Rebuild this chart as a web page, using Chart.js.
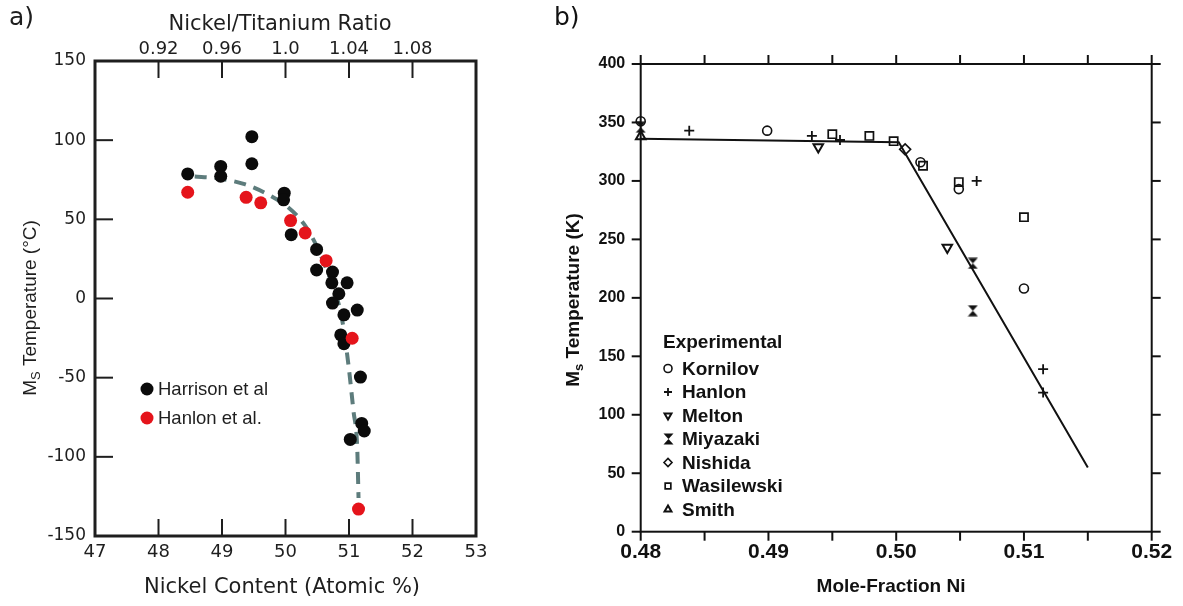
<!DOCTYPE html>
<html><head><meta charset="utf-8">
<script src="https://cdn.jsdelivr.net/npm/chart.js@4.4.1/dist/chart.umd.min.js"></script>
<style>
html,body{margin:0;padding:0;background:#fff;}
#wrap{position:relative;width:1183px;height:606px;overflow:hidden;background:#fff;}
canvas{position:absolute;top:0;}
#ca{left:0;}
#cb{left:540px;}
</style></head><body>
<div id="wrap"><canvas id="ca" width="520" height="606"></canvas><canvas id="cb" width="643" height="606"></canvas></div>
<script>
// ---------- Panel a data ----------
const niTicks = [47, 48, 49, 50, 51, 52, 53];
const ratioTickPos = [48, 49, 50, 51, 52];
const ratioLabels = ['0.92', '0.96', '1.0', '1.04', '1.08'];
const msTicksA = [-150, -100, -50, 0, 50, 100, 150];

const harrisonNi = [48.46, 48.98, 48.98, 49.47, 49.47, 49.98, 49.97, 50.09, 50.49, 50.49, 50.74, 50.73, 50.97, 50.84, 50.74, 50.92, 51.13, 50.87, 50.92, 51.18, 51.20, 51.24, 51.02];
const harrisonMs = [78.7, 83.4, 77.2, 102.2, 85.1, 66.5, 62.3, 40.3, 31.0, 18.0, 16.7, 9.9, 9.9, 3.0, -2.9, -10.3, -7.3, -23.0, -28.5, -49.6, -78.9, -83.7, -89.0];

const hanlonNi = [48.46, 49.38, 49.61, 50.08, 50.31, 50.64, 51.05, 51.15];
const hanlonMs = [67.1, 63.9, 60.4, 49.2, 41.4, 23.9, -25.1, -133.0];

const fitNi = [48.57, 48.88, 49.34, 49.71, 50.04, 50.29, 50.47, 50.65, 50.79, 50.89, 50.99, 51.07, 51.13, 51.15];
const fitMs = [77.0, 76.2, 72.4, 66.0, 57.6, 47.1, 34.8, 18.0, 3.0, -13.0, -41.5, -71.0, -95.0, -126.0];

// ---------- Panel b data ----------
const moleTicks = [0.48, 0.485, 0.49, 0.495, 0.50, 0.505, 0.51, 0.515, 0.52];
const moleLabels = ['0.48', '', '0.49', '', '0.50', '', '0.51', '', '0.52'];
const kelvinTicks = [0, 50, 100, 150, 200, 250, 300, 350, 400];

const kornilovX = [0.48, 0.4899, 0.5019, 0.5049, 0.5100];
const kornilovY = [351, 343, 316, 293, 208];
const hanlonBX = [0.4838, 0.4934, 0.4956, 0.5063, 0.5115, 0.5115];
const hanlonBY = [343, 338.5, 335, 300, 139, 119];
const meltonX = [0.4939, 0.5040];
const meltonY = [329, 243];
const miyazakiX = [0.48, 0.5060, 0.5060];
const miyazakiY = [346, 229.5, 189];
const nishidaX = [0.5007];
const nishidaY = [327];
const wasilewskiX = [0.4950, 0.4979, 0.4998, 0.5021, 0.5049, 0.5100];
const wasilewskiY = [340, 338.5, 334, 313, 299, 269];
const smithX = [0.48];
const smithY = [338];
const fitBX = [0.48, 0.5002, 0.515];
const fitBY = [336, 333, 55];

// ---------- helpers ----------
const FA = '"Liberation Sans", Arial, Helvetica, sans-serif';
const FD = '"DejaVu Sans", "Liberation Sans", sans-serif';
const pts = (xs, ys) => xs.map((x, i) => ({x: x, y: ys[i]}));
function fixTicks(arr) { return s => { s.ticks = arr.map(v => ({value: v})); }; }

function rotTitle(ctx, cx, cy, parts, color) {
  ctx.save();
  ctx.translate(cx, cy);
  ctx.rotate(-Math.PI / 2);
  ctx.fillStyle = color;
  ctx.textBaseline = 'middle';
  ctx.textAlign = 'left';
  let w = 0;
  parts.forEach(p => { ctx.font = p.font; p.w = ctx.measureText(p.t).width; w += p.w; });
  let x = -w / 2;
  parts.forEach(p => { ctx.font = p.font; ctx.fillText(p.t, x, p.dy || 0); x += p.w; });
  ctx.restore();
}
function seg(ctx, x1, y1, x2, y2) { ctx.beginPath(); ctx.moveTo(x1, y1); ctx.lineTo(x2, y2); ctx.stroke(); }

function makeHourglass() {
  const c = document.createElement('canvas'); c.width = 11; c.height = 12;
  const g = c.getContext('2d'); g.fillStyle = '#111';
  g.beginPath(); g.moveTo(0.5, 0.5); g.lineTo(10.5, 0.5); g.lineTo(5.5, 6); g.closePath(); g.fill();
  g.beginPath(); g.moveTo(0.5, 11.5); g.lineTo(10.5, 11.5); g.lineTo(5.5, 6); g.closePath(); g.fill();
  return c;
}
const hourglass = makeHourglass();

// ---------- Panel a ----------
const decorA = {
  id: 'decorA',
  afterDraw(chart) {
    const {ctx, chartArea: a, scales} = chart;
    ctx.save();
    ctx.strokeStyle = '#1e1e1e';
    ctx.lineWidth = 3;
    ctx.strokeRect(a.left, a.top, a.right - a.left, a.bottom - a.top);
    ctx.lineWidth = 2;
    niTicks.forEach(v => { if (v > 47 && v < 53) { const x = scales.x.getPixelForValue(v); seg(ctx, x, a.bottom, x, a.bottom - 17); } });
    ratioTickPos.forEach(v => { const x = scales.x2.getPixelForValue(v); seg(ctx, x, a.top, x, a.top + 17); });
    msTicksA.forEach(v => { if (v > -150 && v < 150) { const y = scales.y.getPixelForValue(v); seg(ctx, a.left, y, a.left + 18, y); } });

    ctx.fillStyle = '#1e1e1e';
    ctx.textBaseline = 'alphabetic';
    ctx.textAlign = 'left';
    ctx.font = '25px ' + FD;
    ctx.fillText('a)', 9, 25);
    ctx.textAlign = 'center';
    ctx.font = '21px ' + FD;
    ctx.fillText('Nickel/Titanium Ratio', 280, 29.5);
    ctx.fillText('Nickel Content (Atomic %)', 282, 593);

    rotTitle(ctx, 31, 308, [
      {t: 'M', font: '19px ' + FA},
      {t: 'S', font: '13px ' + FA, dy: 5},
      {t: ' Temperature (°C)', font: '19px ' + FA}
    ], '#1e1e1e');

    // legend
    const ds = chart.data.datasets;
    const items = [[ds[1], 389], [ds[0], 418]];
    items.forEach(([d, y]) => {
      ctx.beginPath(); ctx.fillStyle = d.backgroundColor; ctx.arc(147, y, 6.5, 0, Math.PI * 2); ctx.fill();
      ctx.fillStyle = '#1e1e1e'; ctx.textAlign = 'left'; ctx.textBaseline = 'middle'; ctx.font = '18.5px ' + FA;
      ctx.fillText(d.label, 158, y + 1);
    });
    ctx.restore();
  }
};

const tickFontA = {family: FD, size: 18};
new Chart(document.getElementById('ca'), {
  type: 'scatter',
  data: {datasets: [
    {label: 'Hanlon et al.', data: pts(hanlonNi, hanlonMs), backgroundColor: '#e5141b', borderColor: '#e5141b', borderWidth: 0, pointRadius: 6.5, order: 0},
    {label: 'Harrison et al', data: pts(harrisonNi, harrisonMs), backgroundColor: '#0b0b0b', borderColor: '#0b0b0b', borderWidth: 0, pointRadius: 6.5, order: 1},
    {type: 'line', label: 'fit', data: pts(fitNi, fitMs), borderColor: '#5d7c7c', borderWidth: 4, borderDash: [12, 8], pointRadius: 0, cubicInterpolationMode: 'monotone', fill: false, order: 2}
  ]},
  options: {
    responsive: false, animation: false, events: [],
    layout: {padding: {left: 0, right: 44, top: 0, bottom: 0}},
    plugins: {legend: {display: false}, tooltip: {enabled: false}},
    scales: {
      x: {type: 'linear', position: 'bottom', min: 47, max: 53,
        afterBuildTicks: fixTicks(niTicks), afterFit: s => { s.height = 70; },
        grid: {display: false, drawTicks: false}, border: {display: false},
        ticks: {font: tickFontA, color: '#1e1e1e', padding: 6, maxRotation: 0, autoSkip: false, callback: v => String(v)}},
      x2: {type: 'linear', position: 'top', min: 47, max: 53,
        afterBuildTicks: fixTicks(ratioTickPos), afterFit: s => { s.height = 61; },
        grid: {display: false, drawTicks: false}, border: {display: false},
        ticks: {font: tickFontA, color: '#1e1e1e', padding: 1, maxRotation: 0, autoSkip: false, callback: (v, i) => ratioLabels[i]}},
      y: {type: 'linear', position: 'left', min: -150, max: 150,
        afterBuildTicks: fixTicks(msTicksA), afterFit: s => { s.width = 95; },
        grid: {display: false, drawTicks: false}, border: {display: false},
        ticks: {font: {family: FD, size: 17}, color: '#1e1e1e', padding: 9, autoSkip: false, callback: v => String(v)}}
    }
  },
  plugins: [decorA]
});

// ---------- Panel b ----------
const OX = 540;
const legendB = ['Kornilov', 'Hanlon', 'Melton', 'Miyazaki', 'Nishida', 'Wasilewski', 'Smith'];

function drawMarker(ctx, ds, x, y, r) {
  ctx.save();
  ctx.strokeStyle = '#111'; ctx.fillStyle = 'rgba(0,0,0,0)'; ctx.lineWidth = ds.borderWidth;
  const st = ds.pointStyle;
  if (st instanceof HTMLCanvasElement) {
    ctx.drawImage(st, Math.round(x - st.width / 2), Math.round(y - st.height / 2));
  } else if (Chart.helpers && Chart.helpers.drawPoint) {
    Chart.helpers.drawPoint(ctx, {pointStyle: st, rotation: ds.rotation || 0, radius: r, borderWidth: ds.borderWidth}, x, y);
  }
  ctx.restore();
}

const decorB = {
  id: 'decorB',
  afterDraw(chart) {
    const {ctx, chartArea: a, scales} = chart;
    ctx.save();
    ctx.strokeStyle = '#111';
    ctx.lineWidth = 2;
    ctx.strokeRect(a.left, a.top, a.right - a.left, a.bottom - a.top);
    const T = 9;
    moleTicks.forEach(v => {
      const x = scales.x.getPixelForValue(v);
      seg(ctx, x, a.bottom, x, a.bottom + T);
      seg(ctx, x, a.top, x, a.top - T);
    });
    kelvinTicks.forEach(v => {
      const y = scales.y.getPixelForValue(v);
      seg(ctx, a.left, y, a.left - T, y);
      seg(ctx, a.right, y, a.right + T, y);
    });

    ctx.fillStyle = '#111';
    ctx.textAlign = 'left';
    ctx.textBaseline = 'alphabetic';
    ctx.font = '25px ' + FD;
    ctx.fillText('b)', 554 - OX, 25);
    ctx.textAlign = 'center';
    ctx.font = 'bold 19px ' + FA;
    ctx.fillText('Mole-Fraction Ni', 891 - OX, 592);

    rotTitle(ctx, 574 - OX, 300, [
      {t: 'M', font: 'bold 19px ' + FA},
      {t: 's', font: 'bold 13px ' + FA, dy: 5},
      {t: ' Temperature (K)', font: 'bold 19px ' + FA}
    ], '#111');

    // legend
    ctx.textAlign = 'left';
    ctx.textBaseline = 'middle';
    ctx.font = 'bold 19px ' + FA;
    ctx.fillText('Experimental', 663 - OX, 343);
    const ds = chart.data.datasets;
    legendB.forEach((name, i) => {
      const d = ds.find(s => s.label === name);
      const y = 368.5 + i * 23.5;
      drawMarker(ctx, d, 668 - OX, y, 4);
      ctx.fillStyle = '#111';
      ctx.font = 'bold 19px ' + FA;
      ctx.fillText(name, 682 - OX, y + 1);
    });
    ctx.restore();
  }
};

const mk = (label, xs, ys, style, extra) => Object.assign({
  label: label, data: pts(xs, ys), pointStyle: style, pointRadius: 5,
  borderColor: '#111', backgroundColor: 'rgba(0,0,0,0)', borderWidth: 1.6, clip: false, order: 0
}, extra || {});

new Chart(document.getElementById('cb'), {
  type: 'scatter',
  data: {datasets: [
    mk('Kornilov', kornilovX, kornilovY, 'circle', {pointRadius: 4.5}),
    mk('Hanlon', hanlonBX, hanlonBY, 'cross', {pointRadius: 5, borderWidth: 1.8}),
    mk('Melton', meltonX, meltonY, 'triangle', {rotation: 180, pointRadius: 5.5, borderWidth: 2}),
    mk('Miyazaki', miyazakiX, miyazakiY, hourglass),
    mk('Nishida', nishidaX, nishidaY, 'rectRot', {pointRadius: 5.5}),
    mk('Wasilewski', wasilewskiX, wasilewskiY, 'rect', {pointRadius: 5.8, borderWidth: 1.7}),
    mk('Smith', smithX, smithY, 'triangle', {pointRadius: 5.5, borderWidth: 2}),
    {type: 'line', label: 'model', data: pts(fitBX, fitBY), borderColor: '#111', borderWidth: 2, pointRadius: 0, tension: 0, fill: false, clip: false, order: 5}
  ]},
  options: {
    responsive: false, animation: false, events: [],
    layout: {padding: {left: 0, right: 31.3, top: 64, bottom: 0}},
    plugins: {legend: {display: false}, tooltip: {enabled: false}},
    scales: {
      x: {type: 'linear', position: 'bottom', min: 0.48, max: 0.52,
        afterBuildTicks: fixTicks(moleTicks), afterFit: s => { s.height = 74.3; },
        grid: {display: false, drawTicks: false}, border: {display: false},
        ticks: {font: {family: FA, size: 21, weight: 'bold'}, color: '#111', padding: 8, maxRotation: 0, autoSkip: false, callback: (v, i) => moleLabels[i]}},
      y: {type: 'linear', position: 'left', min: 0, max: 400,
        afterBuildTicks: fixTicks(kelvinTicks), afterFit: s => { s.width = 100.7; },
        grid: {display: false, drawTicks: false}, border: {display: false},
        ticks: {font: {family: FA, size: 16, weight: 'bold'}, color: '#111', padding: 15.5, autoSkip: false, callback: v => String(v)}}
    }
  },
  plugins: [decorB]
});
</script>
</body></html>
